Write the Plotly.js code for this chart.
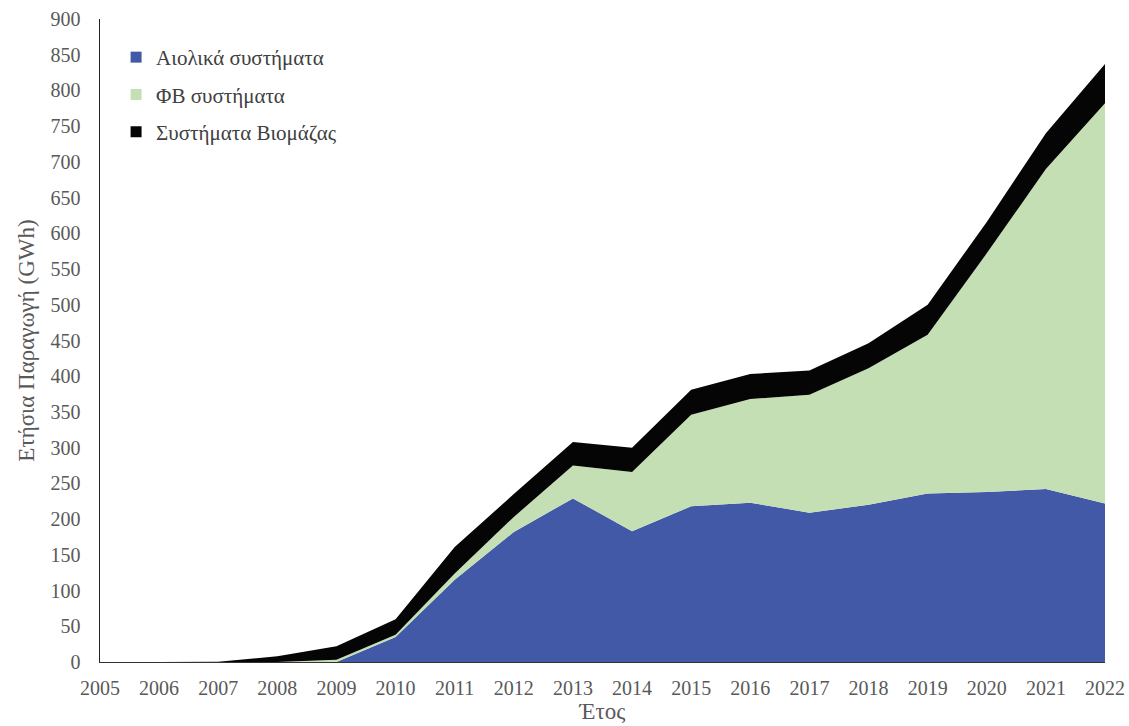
<!DOCTYPE html>
<html>
<head>
<meta charset="utf-8">
<script src="https://cdn.plot.ly/plotly-3.0.1.min.js"></script>
<style>html,body{margin:0;padding:0;background:#fff;}#chart{width:1129px;height:726px;}</style>
</head>
<body>
<div id="chart"></div>
<script>
const years = [2005,2006,2007,2008,2009,2010,2011,2012,2013,2014,2015,2016,2017,2018,2019,2020,2021,2022];
const wind =    [0,0,0,0,0,35,115,182,229,183,218,223,209,220,236,238,242,222];
const pv =      [0,0,0,0,3,3,9,21,46,83,128,145,165,191,222,334,448,560];
const biomass = [0,0,0.5,8,19,22,37,32,33,34,35,35,34,35,42,44,50,55];
const names = ['Αιολικά συστήματα','ΦΒ συστήματα','Συστήματα Βιομάζας'];
const colors = ['#4259A8','#C5DFB4','#050505'];
const series = [wind, pv, biomass];
const serif = 'Liberation Serif, DejaVu Serif, serif';

const traces = [];
series.forEach((s, i) => {
  traces.push({x: years, y: s, type: 'scatter', mode: 'none', stackgroup: 'one',
    fillcolor: colors[i], name: names[i], showlegend: false, hoverinfo: 'skip'});
});
series.forEach((s, i) => {
  traces.push({x: [null], y: [null], type: 'scatter', mode: 'markers', name: names[i],
    legendgroup: 'g' + i, marker: {symbol: 'square', size: 11, color: colors[i]}});
});

const layout = {
  width: 1129, height: 726,
  margin: {l: 100, r: 24, t: 19, b: 64},
  paper_bgcolor: '#fff', plot_bgcolor: '#fff',
  font: {family: serif, color: '#595959', size: 20},
  showlegend: true,
  legend: {x: 0.016, y: 0.972, xanchor: 'left', yanchor: 'top', traceorder: 'grouped',
    tracegroupgap: 7, itemwidth: 30, font: {family: serif, size: 21, color: '#404040'}, bgcolor: 'rgba(0,0,0,0)'},
  xaxis: {range: [2005, 2022], dtick: 1, tickformat: 'd', showgrid: false, zeroline: false,
    showline: true, linecolor: '#333', linewidth: 1, ticks: 'outside', ticklen: 8,
    tickcolor: 'rgba(0,0,0,0)', tickfont: {family: serif, size: 20, color: '#595959'},
    title: {text: 'Έτος', font: {family: serif, size: 23, color: '#595959'}, standoff: 3}},
  yaxis: {range: [0, 900], dtick: 50, showgrid: false, zeroline: false,
    showline: true, linecolor: '#222', linewidth: 1.5, ticks: 'outside', ticklen: 14,
    tickcolor: 'rgba(0,0,0,0)', tickfont: {family: serif, size: 20, color: '#595959'},
    title: {text: 'Ετήσια Παραγωγή (GWh)', font: {family: serif, size: 23, color: '#595959'}, standoff: 9}}
};
Plotly.newPlot('chart', traces, layout, {displayModeBar: false, staticPlot: true});
</script>
</body>
</html>
